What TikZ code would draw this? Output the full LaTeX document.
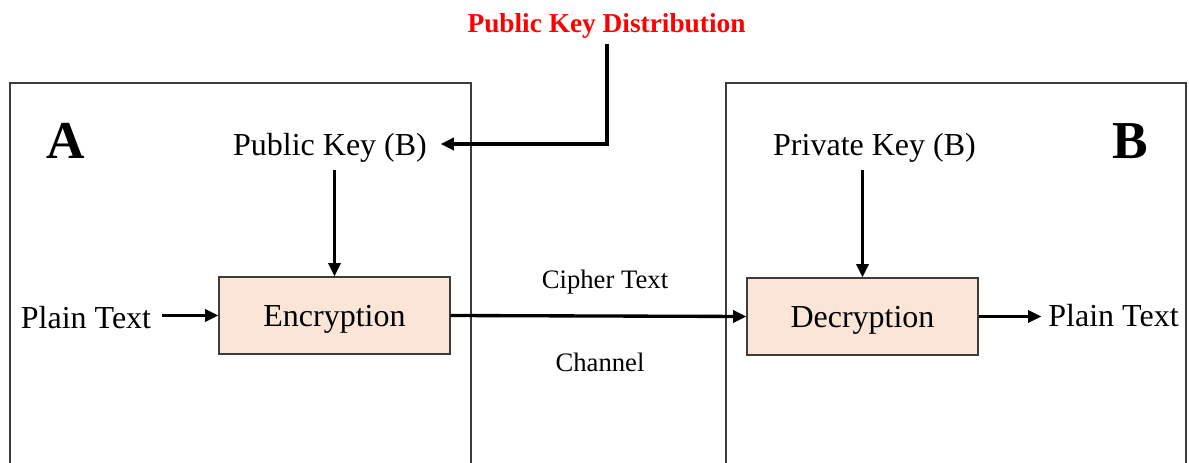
\documentclass[tikz,border=0pt]{standalone}
\usepackage{fontspec}
\setmainfont{Liberation Serif}
\usetikzlibrary{arrows.meta}

\definecolor{peach}{RGB}{250,229,215}
\definecolor{framegray}{RGB}{60,60,60}

\tikzset{
  party/.style={draw=framegray, line width=1.1pt},
  procbox/.style={draw=framegray, fill=peach, line width=0.9pt,
    minimum width=173.25pt, minimum height=57.75pt, inner sep=0pt,
    text depth=0pt, font=\fontsize{24}{28}\selectfont},
  label24/.style={inner sep=0pt, anchor=base, font=\fontsize{24}{28}\selectfont},
  label20/.style={inner sep=0pt, anchor=base, font=\fontsize{20}{24}\selectfont},
  bigletter/.style={inner sep=0pt, anchor=base, font=\fontsize{40}{44}\selectfont\bfseries},
  arr/.style={line width=2.5pt, -{Triangle[length=10pt,width=9pt]}},
}

\begin{document}
\begin{tikzpicture}[x=0.75pt, y=-0.75pt]
  \useasboundingbox (0,0) rectangle (1189,463);

  % the two parties, open at the bottom
  \draw[party] (10,463) -- (10,83) -- (471,83) -- (471,463);
  \draw[party] (726,463) -- (726,83) -- (1186,83) -- (1186,463);

  \node[bigletter] (labA) at (66,159) {A};
  \node[bigletter] (labB) at (1130,159) {B};

  % key distribution
  \node[inner sep=0pt, anchor=base, text=red,
        font=\fontsize{20.5}{24}\selectfont\bfseries] (pkd) at (606.5,33) {Public Key Distribution};
  \node[label24] (pkb) at (330,156) {Public Key (B)};
  \node[label24] (prk) at (874.5,156) {Private Key (B)};

  % processing blocks
  \node[procbox] (enc) at (334.5,315.5) {Encryption};
  \node[procbox] (dec) at (862.5,316.5) {Decryption};

  % plain texts and channel labels
  \node[label24] (pt1) at (86,329) {Plain Text};
  \node[label24] (pt2) at (1113.5,327) {Plain Text};
  \node[label20] (cipher) at (605,289) {Cipher Text};
  \node[label20] (chan) at (600,372) {Channel};

  % connectors
  \coordinate (kink) at (607,144);
  \draw[arr, shorten >=10pt] ([yshift=-4pt]pkd.south -| kink) -- (kink) -- (kink -| pkb.east);
  \draw[arr, shorten <=5pt] (pkb.south -| enc.north) -- (enc.north);
  \draw[arr, shorten <=5pt] (prk.south -| dec.north) -- (dec.north);
  \draw[arr, shorten <=8pt] (pt1.east |- enc.west) -- (enc.west);
  \draw[arr] (enc.east) -- (dec.west);
  \draw[arr, shorten >=5pt] (dec.east) -- (dec.east -| pt2.west);
\end{tikzpicture}
\end{document}
